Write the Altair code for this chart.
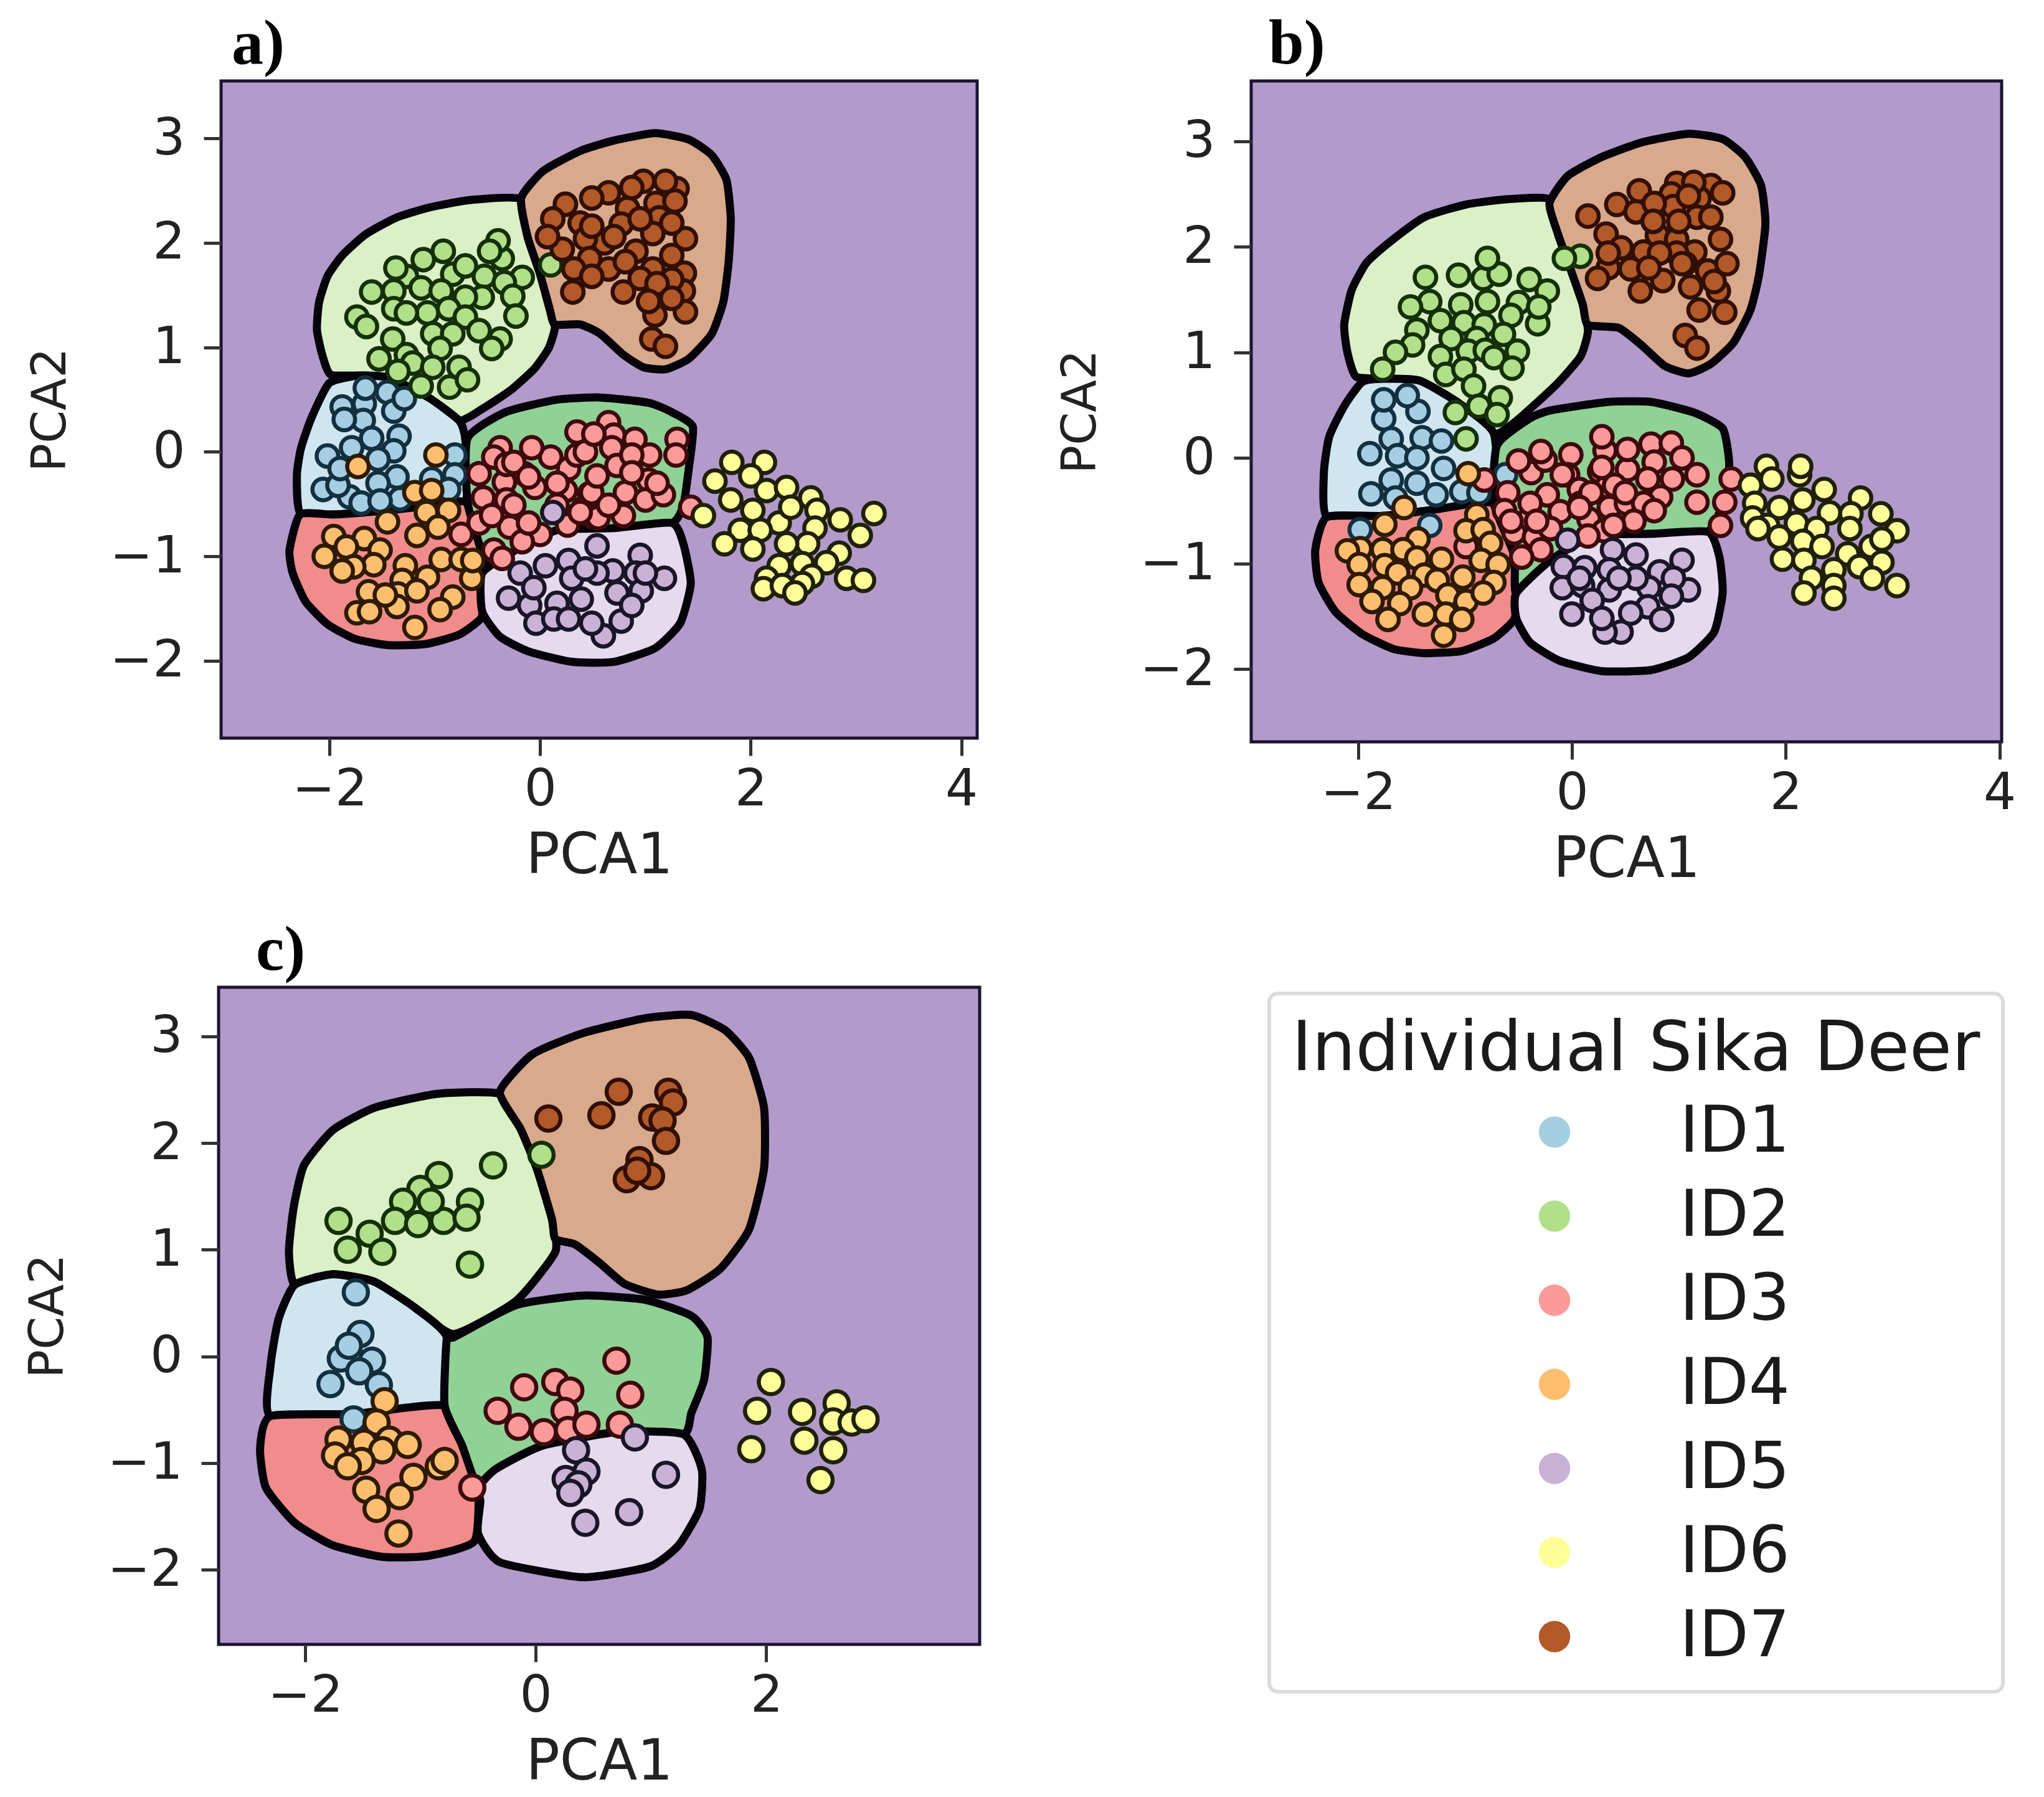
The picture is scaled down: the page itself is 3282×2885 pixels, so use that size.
import altair as alt
import pandas as pd

IDS = ["ID1", "ID2", "ID3", "ID4", "ID5", "ID6", "ID7"]
FILLS = ["#a6cee3", "#b2df8a", "#fb9a99", "#fdbf6f", "#cab2d6", "#ffff99", "#b15928"]
EDGES = ["#12303f", "#143008", "#3d0a0c", "#2e1a00", "#1a1528", "#20200a", "#320f04"]
BG = "#b29bcb"
REGION_COLORS = {"blue": "#cfe6f1", "lgreen": "#daf0c6", "mgreen": "#90d296",
                 "salmon": "#f18c8c", "lav": "#e6dbee", "tan": "#d9a98c"}
XT_AB = [-2, 0, 2, 4]
XT_C = [-2, 0, 2]
YT = [-2, -1, 0, 1, 2, 3]

# ---------- panel a points ----------
A_ID1 = [(-1.67,.46),(-1.45,.57),(-1.39,.39),(-1.68,.30),(-1.60,.13),(-1.34,.15),(-1.39,.01),(-1.79,.04),
 (-1.36,-.24),(-1.54,-.30),(-1.03,-.26),(-1.81,-.43),(-2.06,-.36),(-1.92,-.32),(-1.33,-.45),(-.81,-.03),
 (-.81,-.22),(-.87,-.36),(-1.54,-.07),(-1.70,-.49),(-1.52,-.47),(-1.88,.43),(-1.86,.31),(-2.02,-.04),
 (-1.90,-.16),(-1.66,.61),(-1.29,.51)]
A_ID2 = [(-.92,1.92),(-.36,1.85),(-.40,2.02),(-.48,1.92),(-.83,1.70),(-1.27,1.68),(-.53,1.68),(-.17,1.67),
 (-.34,1.62),(-1.39,1.54),(-1.60,1.53),(-1.13,1.57),(-.94,1.54),(-.55,1.48),(-.71,1.48),(-.26,1.49),
 (-1.39,1.37),(-1.07,1.33),(-1.27,1.33),(-.87,1.37),(-.71,1.29),(-.23,1.30),(-1.74,1.29),(-1.65,1.20),
 (-1.40,1.08),(-1.02,1.13),(-.83,1.13),(-.58,1.16),(-.38,1.08),(-.46,.99),(-1.53,.89),(-1.27,.93),
 (-.95,.99),(-1.21,.85),(-1.02,.81),(-1.35,.77),(-.77,.81),(-.86,.62),(-.69,.69),(-1.13,.63),
 (-1.11,1.84),(-1.37,1.76),(-.71,1.78),(.10,1.79)]
A_ID3 = [(-.75,-.79),(-.38,.04),(-.44,-.05),(-.58,-.21),(-.34,-.29),(-.05,-.34),(-.54,-.44),(.10,-.05),
 (.27,-.16),(.47,-.40),(.35,.19),(-.29,-.72),(-.58,-.68),(0,-.79),(.26,-.70),(-.44,-.94),(-.36,-1.02),
 (-.17,-.86),(-.32,-.12),(-.15,-.21),(-.32,-.46),(-.08,.04),(.41,-.54),(.50,-.62),(.65,.28),(.70,.16),
 (.90,.12),(1.30,.12),(.68,.04),(1.04,-.03),(1.29,-.03),(.73,-.13),(.35,-.03),(1.03,-.27),(.49,-.39),
 (.81,-.39),(1.00,-.46),(.55,-.63),(.79,-.61),(1.43,-.53),(.24,-.37),(1.17,-.41),
 (-.25,-.10),(-.11,-.24),(.16,-.30),(.43,0),(.51,.17),(.87,-.03),(.54,-.23),(.87,-.20),(.16,-.51),(-.25,-.51),
 (-.46,-.61),(.38,-.58),(.65,-.51),(-.11,-.68),(1.11,-.30)]
A_ID4 = [(-1.73,-.14),(-.99,-.03),(-1.19,-.39),(-1.03,-.37),(-.87,-.56),(-1.08,-.58),(-1.45,-.67),(-1.17,-.80),
 (-.97,-.72),(-1.67,-.83),(-1.96,-.81),(-2.05,-1.00),(-1.84,-.91),(-1.52,-.94),(-1.58,-1.08),(-1.77,-1.10),
 (-1.88,-1.14),(-1.28,-1.09),(-.94,-1.03),(-.75,-1.03),(-1.07,-1.20),(-1.31,-1.23),(-.65,-1.21),(-1.63,-1.34),
 (-1.35,-1.36),(-1.17,-1.33),(-.83,-1.39),(-1.36,-1.48),(-.95,-1.51),(-1.74,-1.54),(-1.62,-1.53),(-1.19,-1.68),
 (-1.47,-1.37),(-.64,-1.04)]
A_ID5 = [(.12,-.58),(.54,-.90),(.05,-1.09),(.27,-1.04),(.95,-.99),(.69,-1.14),(.30,-1.21),(.91,-1.16),
 (1.18,-1.21),(.73,-1.35),(.39,-1.41),(.16,-1.45),(-.10,-1.47),(-.30,-1.40),(.96,-1.33),(.77,-1.62),
 (-.04,-1.64),(.13,-1.60),(.60,-1.76),(-.19,-1.16),(.49,-1.64),(.54,-1.16),
 (.43,-1.12),(-.06,-1.30),(1.0,-1.16),(.27,-1.60),(.87,-1.47)]
A_ID6 = [(1.82,-.10),(2.13,-.10),(1.66,-.28),(2.00,-.23),(2.15,-.37),(2.34,-.34),(1.81,-.46),(2.57,-.44),
 (2.02,-.56),(2.63,-.56),(1.55,-.61),(2.85,-.65),(3.17,-.59),(2.27,-.68),(1.90,-.75),(2.09,-.75),(2.38,-.53),
 (2.61,-.73),(3.04,-.80),(1.75,-.88),(2.02,-.93),(2.54,-.88),(2.84,-.97),(2.34,-.88),(2.27,-1.09),(2.49,-1.07),
 (2.72,-1.06),(2.58,-1.19),(2.91,-1.21),(3.07,-1.23),(2.49,-1.26),(2.15,-1.21),(2.12,-1.31),(2.30,-1.28),(2.42,-1.35)]
A_ID7 = [(.24,2.37),(.12,2.23),(.38,2.19),(.65,2.48),(.83,2.33),(.98,2.59),(1.30,2.52),(1.10,2.38),(.77,2.18),
 (1.13,2.24),(1.07,2.09),(1.38,2.04),(.21,1.94),(.61,2.00),(.43,2.04),(.47,1.85),(.91,1.92),(1.07,1.75),
 (1.37,1.71),(.32,1.75),(.65,1.75),(.31,1.53),(.79,1.53),(.95,1.66),(1.36,1.54),(1.13,1.47),(1.38,1.34),
 (1.09,1.31),(1.06,1.08),(1.19,1.01),(1.28,2.40),(.49,2.43),
 (.49,2.16),(.87,2.53),(1.19,2.59),(.95,2.23),(1.25,2.19),(.70,2.06),(.81,1.82),(1.25,1.88),(.49,1.68),(1.25,1.65),
 (1.11,1.61),(1.25,1.47),(1.03,1.44),(.07,2.06)]

# ---------- panel b points ----------
B_ID1 = [(-1.76,.37),(-1.44,.44),(-1.54,.59),(-1.69,.18),(-1.40,.19),(-1.22,.16),(-1.89,.04),(-1.63,.02),
 (-1.45,0),(-1.20,-.10),(-1.69,-.21),(-1.45,-.24),(-1.88,-.34),(-1.65,-.38),(-1.27,-.35),(-1.03,-.32),
 (-.87,-.33),(-.62,-.16),(-1.33,-.64),(-1.98,-.68),(-1.76,.55)]
B_ID2 = [(-1.37,1.71),(-1.06,1.73),(-.83,1.70),(-.68,1.74),(-.79,1.89),(-.40,1.69),(-.23,1.58),(-1.33,1.48),
 (-1.04,1.45),(-.79,1.48),(-.50,1.47),(-1.51,1.43),(-1.23,1.30),(-1.01,1.28),(-.82,1.26),(-.57,1.35),(-.32,1.27),
 (-.31,1.43),(-1.45,1.21),(-1.13,1.13),(-.64,1.17),(-.89,1.13),(-1.49,1.07),(-1.65,1.00),(-1.23,.96),(-.97,1.01),
 (-.81,1.02),(-.73,.95),(-.51,1.01),(-.56,.85),(-1.77,.84),(-1.18,.79),(-1.01,.84),(-.92,.68),(-.67,.57),
 (.08,1.91),(-.07,1.89),(-.87,.49),(-1.09,.43),(-.70,.41),(-.99,.18)]
B_ID3 = [(-.99,-.84),(-.82,-.21),(-.38,-.14),(-.50,-.03),(-.25,-.02),(-.29,.06),(-.01,.03),(.31,.07),(.28,.20),
 (-.04,-.16),(.26,-.13),(.07,-.30),(-.23,-.35),(-.60,-.33),(.33,-.27),(-.63,-.50),(-.40,-.58),(-.11,-.51),
 (.16,-.58),(.35,-.47),(-.39,-.43),(.08,-.43),(-.54,-.71),(-.35,-.75),(-.20,-.67),(-.29,-.87),(-.47,-.94),
 (.30,-.69),(.15,-.74),(.74,.13),(.93,.14),(1.03,0),(.77,-.04),(.52,-.11),(1.17,-.16),(.94,-.20),(.71,-.20),
 (.52,.08),(.40,-.26),(.83,-.37),(1.17,-.42),(.51,-.43),(.67,-.43),(1.49,-.20),(1.43,-.42),(1.39,-.64),(.58,-.60),
 (.18,-.33),(-.09,-.16),(.28,-.09),(.50,-.33),(.07,-.47),(-.33,-.60),(.39,-.64),(.77,-.50),(-.57,-.60)]
B_ID4 = [(-.97,-.15),(-1.57,-.47),(-.89,-.54),(-1.75,-.63),(-.99,-.69),(-.83,-.68),(-1.44,-.77),(-1.98,-.86),
 (-1.77,-.87),(-1.58,-.87),(-2.10,-.88),(-1.45,-.95),(-1.22,-.96),(-.76,-.81),(-.85,-.97),(-.69,-1.01),(-1.99,-1.01),
 (-1.75,-1.02),(-1.02,-1.13),(-1.38,-1.11),(-1.63,-1.09),(-.73,-1.18),(-1.99,-1.20),(-1.77,-1.23),(-1.51,-1.23),
 (-1.26,-1.16),(-1.16,-1.30),(-.99,-1.36),(-.83,-1.28),(-1.61,-1.38),(-1.87,-1.36),(-1.38,-1.48),(-1.18,-1.48),
 (-1.72,-1.53),(-1.03,-1.53),(-1.20,-1.68)]
B_ID5 = [(-.04,-.78),(.38,-.87),(.60,-.92),(1.03,-.97),(-.08,-1.03),(.12,-1.04),(.35,-1.06),(.82,-1.08),(-.09,-1.23),
 (.10,-1.21),(.35,-1.25),(.72,-1.23),(1.09,-1.25),(.19,-1.35),(.71,-1.41),(0,-1.48),(.46,-1.65),(.95,-1.14),
 (.55,-1.47),(.84,-1.53),(.31,-1.65),(.07,-1.14),(.60,-1.14),(.44,-1.14),(.93,-1.31),(.28,-1.52)]
B_ID6 = [(1.82,-.08),(2.13,-.16),(1.87,-.20),(2.14,-.08),(1.67,-.26),(2.36,-.30),(2.70,-.38),(2.16,-.40),(1.94,-.47),
 (2.41,-.52),(2.61,-.53),(2.89,-.53),(1.71,-.43),(1.69,-.57),(2.10,-.62),(2.29,-.67),(2.60,-.67),(3.04,-.69),
 (1.83,-.64),(1.74,-.67),(1.94,-.75),(2.16,-.79),(2.34,-.84),(2.80,-.84),(2.90,-.77),(2.58,-.91),(2.90,-.99),
 (1.97,-.96),(2.17,-.97),(2.45,-1.06),(2.69,-1.03),(2.81,-1.14),(3.04,-1.21),(2.24,-1.14),(2.45,-1.21),(2.17,-1.28),(2.45,-1.33)]
B_ID7 = [(.15,2.29),(.42,2.40),(.60,2.33),(.63,2.53),(.98,2.60),(.93,2.50),(.95,2.38),(1.30,2.58),(1.19,2.46),(1.17,2.28),
 (.32,2.12),(.80,2.11),(.98,2.07),(1.39,2.07),(.46,1.99),(.67,1.95),(1.15,1.95),(.34,1.80),(.55,1.79),(1.06,1.84),
 (1.27,1.77),(.85,1.68),(1.11,1.62),(.64,1.58),(1.37,1.58),(.24,1.70),(1.19,1.40),(1.43,1.38),(1.06,1.16),(1.17,1.04),(1.45,1.84),
 (1.14,2.61),(1.41,2.51),(1.09,2.48),(.77,2.41),(.76,2.24),(1.0,2.24),(1.30,2.28),(.98,1.94),(.82,1.94),(1.03,1.84),(.72,1.80),(.34,1.94),(1.33,1.67)]

# ---------- panel c points ----------
C_ID1 = [(-1.56,.60),(-1.52,.21),(-1.69,-.02),(-1.42,-.04),(-1.53,-.14),(-1.78,-.26),(-1.36,-.27),(-1.62,.10),(-1.58,-.59)]
C_ID2 = [(-.37,1.79),(.05,1.89),(-.84,1.70),(-1.00,1.57),(-1.15,1.45),(-.57,1.45),(-1.71,1.27),(-1.44,1.15),(-1.22,1.27),
 (-1.02,1.24),(-.80,1.27),(-.60,1.30),(-1.63,1.00),(-1.33,.98),(-.57,.86),(-.91,1.45)]
C_ID3 = [(.70,-.04),(-.10,-.29),(.17,-.24),(.30,-.32),(.82,-.36),(-.33,-.51),(.25,-.51),(-.15,-.66),(.07,-.71),(.28,-.69),
 (.44,-.64),(.73,-.64),(-.55,-1.23)]
C_ID4 = [(-1.31,-.42),(-1.38,-.62),(-1.71,-.78),(-1.49,-.81),(-1.27,-.78),(-1.11,-.83),(-1.74,-.93),(-1.33,-.88),(-1.51,-.98),
 (-1.63,-1.03),(-.84,-1.03),(-.79,-.98),(-1.06,-1.13),(-1.47,-1.25),(-1.18,-1.31),(-1.38,-1.43),(-1.19,-1.66)]
C_ID5 = [(.86,-.76),(.35,-.88),(.44,-1.08),(1.13,-1.11),(.26,-1.15),(.37,-1.20),(.30,-1.28),(.81,-1.46),(.43,-1.56)]
C_ID6 = [(2.04,-.24),(1.92,-.51),(2.31,-.52),(2.61,-.44),(2.58,-.61),(2.74,-.62),(2.86,-.59),(2.33,-.79),(2.58,-.88),(1.87,-.87),(2.47,-1.16)]
C_ID7 = [(.72,2.48),(1.15,2.48),(.11,2.23),(.57,2.26),(1.01,2.24),(1.19,2.38),(1.10,2.21),(1.13,2.02),(.90,1.84),(1.00,1.69),(.79,1.66),(.88,1.74)]

# ---------- region outlines ----------
A_LGREEN = [(-.19,2.42),(-.67,2.41),(-1.05,2.34),(-1.37,2.24),(-1.66,2.08),(-1.88,1.88),(-2.02,1.68),(-2.10,1.43),(-2.12,1.17),
 (-2.07,.93),(-1.99,.74),(-1.72,.73),(-1.44,.71),(-1.06,.52),(-.77,.30),(-.52,.43),(-.28,.59),(-.06,.79),(.08,.99),(.14,1.19),(.09,1.37),(0,1.70),(-.12,2.06)]
A_BLUE = [(-2.0,.66),(-2.17,.33),(-2.27,.04),(-2.31,-.22),(-2.28,-.58),(-1.96,-.60),(-1.56,-.57),(-1.17,-.53),(-.71,-.48),(-.71,.11),(-.77,.30),(-1.06,.52),(-1.44,.71),(-1.72,.73)]
A_SALMON = [(-2.28,-.60),(-2.38,-.94),(-2.35,-1.16),(-2.23,-1.43),(-2.02,-1.65),(-1.76,-1.79),(-1.44,-1.85),(-1.09,-1.84),(-.77,-1.75),(-.56,-1.59),(-.52,-1.35),(-.50,-1.16),(-.58,-.88),(-.71,-.48),(-1.17,-.53),(-1.56,-.57),(-1.96,-.60)]
A_MGREEN = [(-.69,.13),(-.33,.38),(.16,.50),(.57,.52),(1.03,.47),(1.25,.38),(1.45,.24),(1.41,-.17),(1.36,-.51),(1.25,-.68),(.70,-.73),(.16,-.75),(-.25,-.95),(-.55,-1.16),(-.50,-1.16),(-.58,-.88),(-.69,-.48)]
A_LAV = [(1.25,-.68),(1.36,-.88),(1.43,-1.26),(1.33,-1.64),(1.09,-1.88),(.70,-2.01),(.30,-2.01),(-.11,-1.91),(-.38,-1.77),(-.55,-1.53),(-.55,-1.16),(-.25,-.95),(.16,-.75),(.70,-.73)]
A_TAN = [(-.18,2.43),(.03,2.69),(.38,2.88),(.70,2.98),(1.09,3.05),(1.41,2.99),(1.63,2.84),(1.77,2.60),(1.81,2.23),(1.79,1.82),(1.74,1.44),(1.63,1.13),(1.41,.89),(1.19,.79),(.98,.81),(.79,.93),(.57,1.13),(.38,1.22),(.14,1.22),(.09,1.37),(0,1.70),(-.12,2.06)]

B_LGREEN = [(-.21,2.45),(-.60,2.45),(-.99,2.40),(-1.38,2.28),(-1.71,2.04),(-1.92,1.85),(-2.06,1.59),(-2.13,1.26),(-2.10,1.00),(-2.02,.77),(-1.75,.75),(-1.42,.73),(-1.06,.52),(-.73,.23),(-.52,.35),(-.15,.69),(.08,.96),(.15,1.20),(.10,1.46),(-.02,1.81),(-.13,2.12)]
B_BLUE = [(-1.96,.72),(-2.13,.49),(-2.27,.20),(-2.32,-.14),(-2.29,-.56),(-1.76,-.55),(-1.28,-.49),(-.73,-.43),(-.73,.23),(-1.06,.52),(-1.42,.73),(-1.75,.75)]
B_SALMON = [(-2.29,-.56),(-2.40,-.87),(-2.37,-1.18),(-2.21,-1.46),(-1.96,-1.67),(-1.67,-1.81),(-1.38,-1.85),(-1.03,-1.83),(-.73,-1.71),(-.54,-1.53),(-.50,-1.28),(-.54,-.92),(-.73,-.43),(-1.28,-.49),(-1.76,-.55)]
B_MGREEN = [(-.70,.12),(-.40,.37),(-.20,.45),(.34,.53),(.74,.53),(1.14,.43),(1.41,.28),(1.47,-.03),(1.45,-.33),(1.27,-.70),(.74,-.72),(.20,-.74),(-.20,-.97),(-.52,-1.28),(-.54,-.92),(-.73,-.43)]
B_LAV = [(1.27,-.70),(1.38,-.94),(1.41,-1.28),(1.33,-1.65),(1.09,-1.89),(.74,-2.01),(.28,-2.02),(-.12,-1.92),(-.39,-1.75),(-.52,-1.52),(-.52,-1.28),(-.20,-.97),(.20,-.74),(.74,-.72)]
B_TAN = [(-.21,2.41),(-.04,2.67),(.28,2.85),(.66,2.99),(1.09,3.07),(1.41,3.02),(1.62,2.85),(1.77,2.58),(1.81,2.21),(1.75,1.73),(1.67,1.40),(1.51,1.09),(1.30,.89),(1.09,.80),(.87,.87),(.66,1.06),(.44,1.23),(.15,1.26),(.10,1.46),(-.02,1.81),(-.13,2.12)]

C_LGREEN = [(-.31,2.46),(-.86,2.46),(-1.40,2.33),(-1.76,2.12),(-2.01,1.79),(-2.10,1.39),(-2.14,.98),(-2.09,.67),(-1.76,.77),(-1.40,.70),(-1.04,.45),(-.71,.21),(-.17,.52),(.17,.98),(.14,1.29),(.01,1.76),(-.13,2.13)]
C_BLUE = [(-2.09,.67),(-2.23,.35),(-2.30,-.09),(-2.30,-.56),(-1.58,-.54),(-.79,-.46),(-.77,.18),(-1.04,.45),(-1.40,.70),(-1.76,.77)]
C_SALMON = [(-2.30,-.56),(-2.39,-.86),(-2.34,-1.23),(-2.09,-1.56),(-1.76,-1.77),(-1.33,-1.88),(-.93,-1.87),(-.53,-1.73),(-.50,-1.16),(-.64,-.83),(-.79,-.46),(-1.58,-.54)]
C_MGREEN = [(-.71,.18),(-.17,.48),(.41,.57),(.95,.53),(1.35,.38),(1.49,.18),(1.46,-.22),(1.35,-.53),(1.28,-.73),(.70,-.71),(.05,-.84),(-.35,-1.06),(-.50,-1.23),(-.64,-.83),(-.79,-.46),(-.77,.18)]
C_LAV = [(1.28,-.73),(1.44,-1.06),(1.42,-1.43),(1.24,-1.77),(.99,-1.97),(.41,-2.07),(-.31,-1.93),(-.50,-1.66),(-.48,-1.36),(-.50,-1.23),(-.35,-1.06),(.05,-.84),(.70,-.71)]
C_TAN = [(-.31,2.48),(-.03,2.83),(.41,3.03),(.95,3.17),(1.35,3.20),(1.64,3.06),(1.85,2.80),(1.98,2.33),(1.98,1.76),(1.85,1.19),(1.60,.82),(1.31,.62),(1.06,.58),(.77,.68),(.55,.88),(.34,1.05),(.17,1.10),(.14,1.29),(.01,1.76),(-.13,2.13)]

FONT = "DejaVu Sans"


def region_layer(pts, color):
    df = pd.DataFrame(pts, columns=["x", "y"]).assign(i=range(len(pts)))
    return alt.Chart(df).mark_line(
        fill=REGION_COLORS[color], stroke="#05020a", strokeWidth=13, interpolate="cardinal-closed", tension=0.45,
        strokeJoin="round",
    ).encode(x=alt.X("x:Q"), y=alt.Y("y:Q"), order=alt.Order("i:Q"))


def panel(letter, dx, xdom, ydom, xticks, w, h, regions, groups, size, legend):
    xscale = alt.Scale(domain=xdom, nice=False, zero=False)
    yscale = alt.Scale(domain=ydom, nice=False, zero=False)
    xaxis = alt.Axis(values=xticks, title="PCA1", grid=False, format="d", domain=False, tickSize=28, tickWidth=5, tickColor="#333333",
                     labelFont=FONT, labelFontSize=82, labelColor="#222222", labelPadding=14, titleFont=FONT, titleFontSize=90,
                     titleFontWeight="normal", titleColor="#222222", titlePadding=22)
    yaxis = alt.Axis(values=YT, title="PCA2", grid=False, format="d", domain=False, tickSize=28, tickWidth=5, tickColor="#333333",
                     labelFont=FONT, labelFontSize=82, labelColor="#222222", labelPadding=30, titleFont=FONT, titleFontSize=76,
                     titleFontWeight="normal", titleColor="#222222", titlePadding=56)
    base = alt.Chart(pd.DataFrame({"x": [xdom[0]], "y": [ydom[0]]})).mark_point(opacity=0).encode(
        x=alt.X("x:Q", scale=xscale, axis=xaxis), y=alt.Y("y:Q", scale=yscale, axis=yaxis))
    layers = [base] + [region_layer(p, c) for p, c in regions]
    rows = []
    for name, pts in zip(IDS, groups):
        rows += [{"x": a, "y": b, "id": name} for a, b in pts]
    pts = alt.Chart(pd.DataFrame(rows)).mark_point(filled=True, shape="circle", size=size, strokeWidth=6.5, opacity=1).encode(
        x=alt.X("x:Q"), y=alt.Y("y:Q"),
        fill=alt.Fill("id:N", scale=alt.Scale(domain=IDS, range=FILLS), legend=legend),
        stroke=alt.Stroke("id:N", scale=alt.Scale(domain=IDS, range=EDGES), legend=None),
    )
    layers.append(pts)
    return alt.layer(*layers).properties(
        width=w, height=h,
        view=alt.ViewConfig(fill=BG, stroke="#1c1430", strokeWidth=5),
        title=alt.TitleParams(letter, anchor="start", frame="group", dx=dx, offset=7,
                              font="Liberation Serif", fontSize=102, fontWeight="bold", color="black"),
    )


legend = alt.Legend(
    title="Individual Sika Deer", orient="none", legendX=1687, legendY=10, fillColor="white", strokeColor="#dcdcdc",
    cornerRadius=14, padding=36, titleFont=FONT, titleFontSize=110.5, titleFontWeight="normal", titleColor="#1a1a1a",
    titlePadding=24, labelFont=FONT, labelFontSize=104, labelColor="#1a1a1a", labelLimit=600, symbolType="circle", symbolSize=2550,
    symbolStrokeWidth=0, symbolStrokeColor="transparent", symbolOffset=370, labelOffset=149, rowPadding=31, columns=1,
    titleLimit=2000,
)

a = panel("a)", 17, [-3.03, 4.15], [-2.74, 3.55], XT_AB, 1214, 1055,
          [(A_LGREEN, "lgreen"), (A_BLUE, "blue"), (A_SALMON, "salmon"), (A_MGREEN, "mgreen"), (A_LAV, "lav"), (A_TAN, "tan")],
          [A_ID1, A_ID2, A_ID3, A_ID4, A_ID5, A_ID6, A_ID7], 1200, None)
b = panel("b)", 28, [-3.0, 4.02], [-2.69, 3.57], XT_AB, 1205, 1061,
          [(B_LGREEN, "lgreen"), (B_BLUE, "blue"), (B_SALMON, "salmon"), (B_MGREEN, "mgreen"), (B_LAV, "lav"), (B_TAN, "tan")],
          [B_ID1, B_ID2, B_ID3, B_ID4, B_ID5, B_ID6, B_ID7], 1200, None)
c = panel("c)", 60, [-2.75, 3.85], [-2.70, 3.46], XT_C, 1222, 1055,
          [(C_LGREEN, "lgreen"), (C_BLUE, "blue"), (C_SALMON, "salmon"), (C_MGREEN, "mgreen"), (C_LAV, "lav"), (C_TAN, "tan")],
          [C_ID1, C_ID2, C_ID3, C_ID4, C_ID5, C_ID6, C_ID7], 1520, legend)

chart = alt.concat(a, b, c, columns=2, spacing=alt.RowColnumber(row=394, column=436)).properties(
    bounds="flush",
    center=alt.RowColboolean(column=True, row=False),
    padding={"left": 28, "top": 9, "right": 10, "bottom": 10},
    background="white",
).resolve_scale(fill="independent", stroke="independent").resolve_legend(fill="independent", stroke="independent").configure_legend(strokeWidth=6)

chart.save("out.html", embed_options={"renderer": "svg", "actions": False})
